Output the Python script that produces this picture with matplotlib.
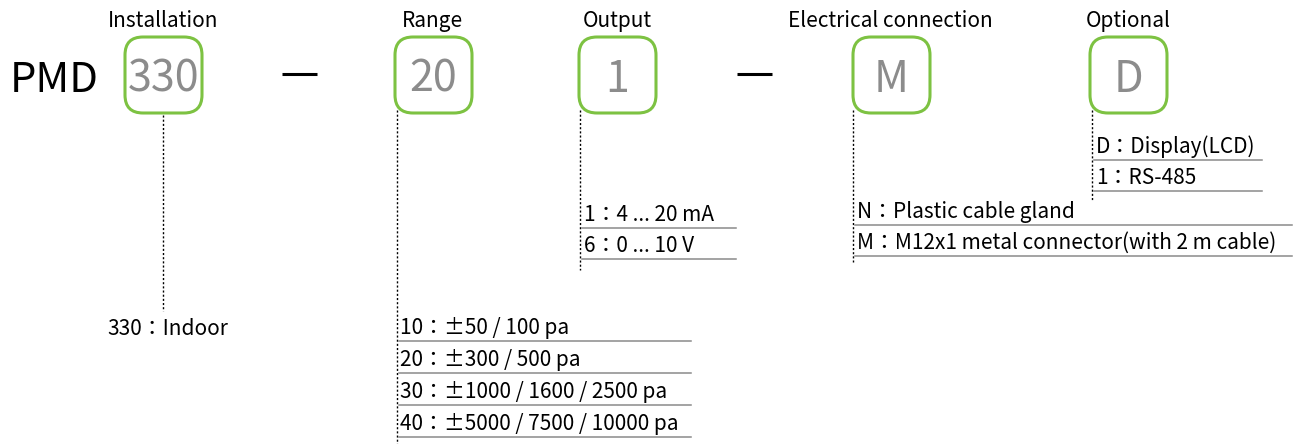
import matplotlib
matplotlib.use("Agg")
import matplotlib.pyplot as plt
from matplotlib.patches import FancyBboxPatch

plt.rcParams['font.family'] = ['Noto Sans CJK TC', 'DejaVu Sans']

# 型号说明数据
prefix = "PMD"
headers = ["Installation", "Range", "Output", "Electrical connection", "Optional"]
codes = ["330", "20", "1", "M", "D"]
inst_opts = ["330：Indoor"]
range_opts = ["10：±50 / 100 pa", "20：±300 / 500 pa",
              "30：±1000 / 1600 / 2500 pa", "40：±5000 / 7500 / 10000 pa"]
output_opts = ["1：4 ... 20 mA", "6：0 ... 10 V"]
elec_opts = ["N：Plastic cable gland", "M：M12x1 metal connector(with 2 m cable)"]
optional_opts = ["D：Display(LCD)", "1：RS-485"]

# 布局（像素坐标）
box_left = [125, 395, 579, 853, 1090]
head_x = [163, 432, 617, 890, 1128]
dash_x = [(282, 317), (737, 772)]
GREEN = "#7dc242"
GRAY = "#8c8c8c"
LINE = "#8a8a8a"
FS = 15

fig = plt.figure(figsize=(13.08, 4.44), dpi=100)
ax = fig.add_axes([0, 0, 1, 1])
ax.set_xlim(0, 1308)
ax.set_ylim(444, 0)
ax.axis("off")

ax.text(10, 92, prefix, fontsize=30, color="black", va="baseline", ha="left")

for left, hx, head, code in zip(box_left, head_x, headers, codes):
    ax.add_patch(FancyBboxPatch((left + 18, 37 + 18), 77 - 36, 76 - 36,
                                boxstyle="round,pad=18", fc="none",
                                ec=GREEN, lw=2.2))
    ax.text(left + 38.5, 92, code, fontsize=31, color=GRAY,
            ha="center", va="baseline")
    ax.text(hx, 27, head, fontsize=FS, ha="center", va="baseline")

for x0, x1 in dash_x:
    ax.plot([x0, x1], [74, 74], color="black", lw=2.2, solid_capstyle="butt")

dot = dict(color="black", lw=1.0, linestyle=(0, (1.5, 1.5)))


def option_list(items, x_line, y_top, y_bot, x_text, first_line, step, x_end,
                underline=True):
    ax.plot([x_line, x_line], [y_top, y_bot], **dot)
    for i, s in enumerate(items):
        yl = first_line + i * step
        ax.text(x_text, yl - 7.5, s, fontsize=FS, ha="left", va="baseline")
        if underline:
            ax.plot([x_line + 2, x_end], [yl, yl], color=LINE, lw=1.1)


option_list(inst_opts, 163, 115, 311, 107, 342, 32, 0, underline=False)
option_list(range_opts, 397, 110, 444, 400, 341, 32, 691)
option_list(output_opts, 580, 110, 270, 584, 228, 31, 736)
option_list(elec_opts, 853, 110, 262, 857, 225, 31, 1292)
option_list(optional_opts, 1092, 110, 200, 1096, 160, 31, 1262)

fig.savefig("out.png", dpi=100)
